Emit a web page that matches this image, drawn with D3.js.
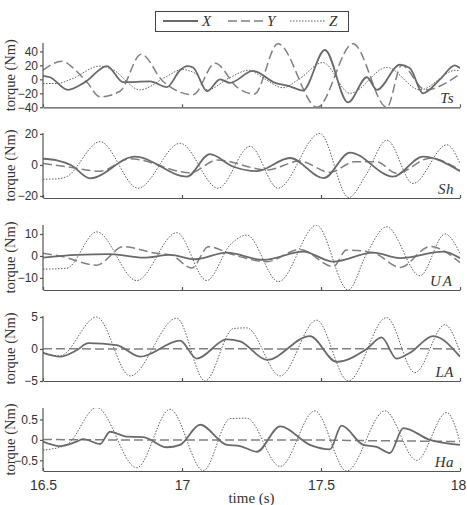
<!DOCTYPE html>
<html lang="en">
<head>
  <meta charset="UTF-8">
  <title>Joint torques</title>
  <style>
    body { margin: 0; background: #fff; }
    svg { display: block; font-family: 'Liberation Serif', 'Times New Roman', serif; }
  </style>
</head>
<body>
  <svg id="svg" width="467" height="505"></svg>

  <script src="https://d3js.org/d3.v7.min.js"></script>
  <script>
    // [time (s), torque (Nm)]
    const tsX = [[16.5,5],[16.525,3],[16.59,-15],[16.651,-4],[16.73,19],[16.788,-4],[16.885,-3],[16.946,-11],[16.993,13],[17.018,19],[17.04,17],[17.09,-17],[17.137,0],[17.173,-5],[17.255,12],[17.335,-5],[17.388,-10],[17.435,-16],[17.514,42],[17.597,-33],[17.665,3],[17.701,-15],[17.784,21],[17.82,16],[17.867,-20],[17.928,0],[17.982,20],[18,16]]
    const tsY = [[16.5,13],[16.568,26],[16.62,12],[16.66,-5],[16.705,-25],[16.777,-17],[16.853,36],[16.932,-3],[17.04,-22],[17.119,23],[17.2,-12],[17.26,-21],[17.345,51],[17.486,-40],[17.615,51],[17.737,-40],[17.79,20],[17.875,-15],[18,8]]
    const tsZ = [[16.5,-6],[16.55,-6],[16.6,0],[16.705,19],[16.75,14],[16.849,-15],[16.94,3],[17.0,14],[17.05,8],[17.09,-15],[17.17,2],[17.24,13],[17.3,0],[17.363,-12],[17.42,0],[17.507,24],[17.604,-20],[17.737,17],[17.856,-15],[17.985,13],[18,12]]

    const shX = [[16.5,4],[16.55,3],[16.6,0],[16.669,-8.6],[16.83,5.4],[17.018,-7.5],[17.1,7],[17.183,-1],[17.27,-4],[17.388,4.5],[17.51,-8.5],[17.604,8],[17.759,-7.5],[17.867,5.4],[18,-4]]
    const shY = [[16.5,1],[16.58,-1],[16.705,-4],[16.813,4],[17.03,-5],[17.126,3.2],[17.306,-3.2],[17.424,2.5],[17.532,-4.8],[17.62,2],[17.7,2],[17.773,-5.4],[17.892,4.3],[18,-3.2]]
    const shZ = [[16.5,-9.2],[16.55,-9],[16.585,-7.5],[16.705,15],[16.842,-15],[16.993,14],[17.13,-15],[17.245,12],[17.345,-15],[17.496,20.4],[17.6,-21],[17.66,-7],[17.737,16],[17.831,-12],[17.953,13],[18,1]]

    const uaX = [[16.5,-0.8],[16.621,0.5],[16.741,0.8],[16.861,-0.8],[16.957,0.5],[17.047,-1.5],[17.161,1.5],[17.293,-1.8],[17.436,2],[17.544,-2.6],[17.688,1.5],[17.784,-1],[17.94,2],[18,-1]]
    const uaY = [[16.5,1.2],[16.56,0],[16.693,-4.2],[16.789,4.2],[16.909,1.2],[16.96,0.5],[17.035,-5.5],[17.095,4.2],[17.185,0.5],[17.305,-2.6],[17.424,3],[17.544,-4.8],[17.592,2.7],[17.688,1.5],[17.784,-5.2],[17.892,4.3],[18,-3]]
    const uaZ = [[16.5,-6],[16.585,-5.6],[16.693,11],[16.837,-11.2],[16.981,10.6],[17.089,-11.2],[17.173,5],[17.233,9.5],[17.347,-11.7],[17.484,14],[17.598,-15.5],[17.664,1],[17.736,13.3],[17.856,-9],[17.946,10],[18,1.2]]

    const laX = [[16.5,-0.6],[16.561,-1.2],[16.621,-0.2],[16.663,0.9],[16.765,0.6],[16.849,-1.2],[16.993,1.3],[17.053,-1.5],[17.161,1.5],[17.209,1.2],[17.305,-1.7],[17.46,2],[17.556,-2],[17.664,0],[17.718,1.8],[17.772,-1.5],[17.82,-0.6],[17.904,2],[18,-1.2]]
    const laY = [[16.5,0.05],[16.8,0],[17.1,0.05],[17.4,0],[17.7,0.05],[18,0]]
    const laZ = [[16.5,-0.5],[16.56,-1.1],[16.693,5],[16.813,-4.2],[16.981,4.8],[17.083,-5],[17.185,3.2],[17.233,3.3],[17.353,-4.2],[17.484,4.5],[17.598,-5],[17.736,4.9],[17.838,-3.7],[17.946,3.8],[18,-0.5]]

    const haX = [[16.5,-0.04],[16.561,-0.15],[16.621,-0.04],[16.645,0.02],[16.705,-0.1],[16.741,0.2],[16.801,0.08],[16.861,0.07],[16.945,-0.18],[16.993,-0.12],[17.065,0.37],[17.161,-0.12],[17.209,-0.15],[17.269,-0.29],[17.353,0.33],[17.46,-0.12],[17.532,-0.23],[17.574,0.35],[17.652,-0.12],[17.7,-0.17],[17.748,-0.32],[17.796,0.29],[17.892,0],[18,-0.12]]
    const haY = [[16.5,0.01],[16.8,0],[17.1,0],[17.4,0],[17.7,-0.02],[18,-0.04]]
    const haZ = [[16.5,-0.25],[16.585,-0.12],[16.693,0.79],[16.837,-0.68],[16.957,0.75],[17.077,-0.75],[17.173,0.52],[17.233,0.53],[17.353,-0.65],[17.478,0.71],[17.592,-0.76],[17.73,0.71],[17.844,-0.5],[17.952,0.67],[18,-0.04]]

    const panelNames = ['Ts', 'Sh', 'UA', 'LA', 'Ha']
    const seriesNames = ['X', 'Y', 'Z']
    const panelData = [[tsX, tsY, tsZ], [shX, shY, shZ], [uaX, uaY, uaZ], [laX, laY, laZ], [haX, haY, haZ]]
    const xTicks = [16.5, 17, 17.5, 18]
    const yDomains = [[-40, 52], [-21.3, 20.6], [-15.5, 14.1], [-5, 5.15], [-0.76, 0.78]]
    const yTicks = [[-40, -20, 0, 20, 40], [-20, 0, 20], [-10, 0, 10], [-5, 0, 5], [-0.5, 0, 0.5]]

    // layout
    const left = 43, right = 460
    const panelBox = [[43, 107.3], [133, 198], [225, 290], [316, 381], [408, 471]]
    const styles = [
      { stroke: '#6a6a6a', width: 1.8, dash: null },
      { stroke: '#808080', width: 1.5, dash: '9,4' },
      { stroke: '#333', width: 0.8, dash: '1.5,1.5' }
    ]
    const axisColor = '#555'

    const svg = d3.select('#svg')

    const xscale = d3.scaleLinear()
      .domain([16.5, 18])
      .range([left, right])

    panelNames.forEach((name, p) => {
      const [top, bottom] = panelBox[p]
      const yscale = d3.scaleLinear()
        .domain(yDomains[p])
        .range([bottom, top])

      const g = svg.append('g')

      g.append('clipPath')
        .attr('id', `clip${p}`)
        .append('rect')
        .attr('x', left)
        .attr('y', top)
        .attr('width', right - left)
        .attr('height', bottom - top)

      const line = d3.line()
        .x(d => xscale(d[0]))
        .y(d => yscale(d[1]))
        .curve(d3.curveMonotoneX)

      // draw Z first so solid sits on top
      const lines = g.append('g').attr('clip-path', `url(#clip${p})`)
      ;[2, 1, 0].forEach(s => {
        lines.append('path')
          .datum(panelData[p][s])
          .attr('fill', 'none')
          .attr('stroke', styles[s].stroke)
          .attr('stroke-width', styles[s].width)
          .attr('stroke-dasharray', styles[s].dash)
          .attr('d', line)
      })

      // left axis
      const leftAxis = d3.axisLeft(yscale)
        .tickValues(yTicks[p])
        .tickSize(3)
        .tickPadding(2)
        .tickFormat(d3.format('~g'))
      const ya = g.append('g')
        .attr('transform', `translate(${left}, 0)`)
        .call(leftAxis)
      ya.select('.domain').attr('d', `M0,${top}V${bottom}`)

      // bottom axis, ticks pointing up
      const bottomAxis = d3.axisBottom(xscale)
        .tickValues(xTicks)
        .tickSizeInner(-3)
        .tickSizeOuter(0)
        .tickPadding(9)
        .tickFormat(p === 4 ? d3.format('~g') : () => '')
      const xa = g.append('g')
        .attr('transform', `translate(0, ${bottom})`)
        .call(bottomAxis)

      svg.selectAll('.domain, .tick line')
        .attr('stroke', axisColor)
        .attr('stroke-width', 1.2)
      ya.selectAll('text').attr('font-size', 12).attr('fill', '#333').attr('font-family', null)
      xa.selectAll('text').attr('font-size', 14).attr('fill', '#333').attr('font-family', null)
      xa.selectAll('.tick:last-of-type text').attr('dx', -2)

      // y label
      g.append('text')
        .attr('transform', `translate(10, ${(top + bottom) / 2}) rotate(-90)`)
        .attr('text-anchor', 'middle')
        .attr('dominant-baseline', 'central')
        .attr('font-size', 14.5)
        .attr('fill', '#333')
        .text('torque (Nm)')

      // panel name
      g.append('text')
        .attr('x', 454)
        .attr('y', bottom - 4)
        .attr('text-anchor', 'end')
        .attr('font-style', 'italic')
        .attr('font-size', 15)
        .attr('letter-spacing', name === 'UA' ? 2 : 0.5)
        .attr('fill', '#333')
        .text(name)
    })

    svg.append('text')
      .attr('x', (left + right) / 2)
      .attr('y', 503)
      .attr('text-anchor', 'middle')
      .attr('font-size', 15)
      .attr('fill', '#333')
      .text('time (s)')

    // legend
    const legend = svg.append('g')
    legend.append('rect')
      .attr('x', 155.5).attr('y', 11.5)
      .attr('width', 193).attr('height', 20)
      .attr('fill', '#fff')
      .attr('stroke', '#444')
      .attr('stroke-width', 1)
    const legendX = [163, 228, 290]
    seriesNames.forEach((s, i) => {
      legend.append('line')
        .attr('x1', legendX[i]).attr('x2', legendX[i] + 35)
        .attr('y1', 21).attr('y2', 21)
        .attr('stroke', styles[i].stroke)
        .attr('stroke-width', styles[i].width)
        .attr('stroke-dasharray', styles[i].dash)
      legend.append('text')
        .attr('x', legendX[i] + 39)
        .attr('y', 26)
        .attr('font-style', 'italic')
        .attr('font-size', 15)
        .attr('fill', '#333')
        .text(s)
    })
  </script>
</body>
</html>
